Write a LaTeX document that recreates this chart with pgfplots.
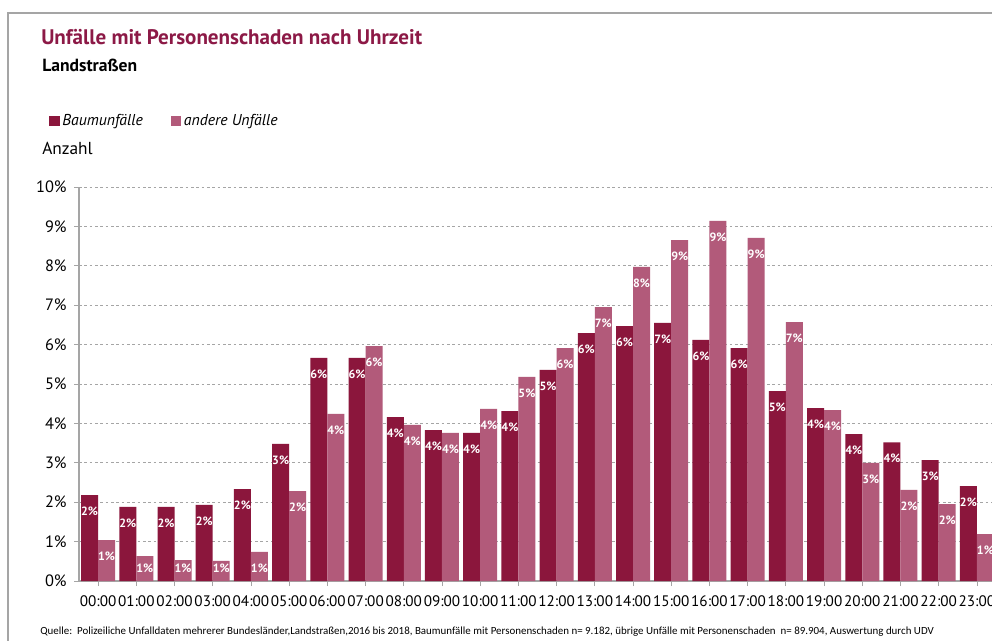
\documentclass[border=0pt]{standalone}
\usepackage{pgfplots}
\pgfplotsset{compat=1.18}
\usepackage{fontspec}
\setmainfont{PT Sans}
\newfontfamily\srcfont{Carlito}
\definecolor{baum}{RGB}{139,22,60}
\definecolor{andere}{RGB}{178,90,122}
\definecolor{titlec}{RGB}{140,25,70}
\definecolor{axgray}{RGB}{165,165,165}
\begin{document}
\begin{tikzpicture}
\useasboundingbox (0,0) rectangle (744pt,-480.75pt);
\clip (0,0) rectangle (744pt,-480.75pt);
\fill[white] (0,0) rectangle (744pt,-480.75pt);
\begin{scope}[x=0.75pt,y=-0.75pt]
\draw[axgray, line width=1.1pt] (8,641) -- (8,13) -- (992,13);
\node[anchor=base west, inner sep=0, text=titlec, font=\bfseries\fontsize{15.8}{18}\selectfont] at (41,45) {Unfälle mit Personenschaden nach Uhrzeit};
\node[anchor=base west, inner sep=0, font=\bfseries\fontsize{13.2}{15}\selectfont] at (42,72) {Landstraßen};
\node[anchor=base west, inner sep=0, font=\fontsize{13}{15}\selectfont] at (42,155) {Anzahl};
\node[anchor=base west, inner sep=0, font=\srcfont\fontsize{8.2}{10}\selectfont] at (40,634) {Quelle:\ \ Polizeiliche Unfalldaten mehrerer Bundesländer,Landstraßen,2016 bis 2018, Baumunfälle mit Personenschaden n= 9.182, übrige Unfälle mit Personenschaden\ \ n= 89.904, Auswertung durch UDV};
\end{scope}
\begin{axis}[
  at={(59.25pt,-435.75pt)}, anchor=south west,
  scale only axis, width=687.75pt, height=295.5pt,
  xmin=-0.5, xmax=23.5, ymin=0, ymax=10,
  ybar=0pt, bar width=0.445,
  axis lines*=left,
  axis line style={axgray, line width=0.8pt},
  tick align=outside, major tick length=3.75pt,
  tick style={axgray, line width=0.6pt},
  xtick={0,...,23},
  xticklabels={00:00,01:00,02:00,03:00,04:00,05:00,06:00,07:00,08:00,09:00,10:00,11:00,12:00,13:00,14:00,15:00,16:00,17:00,18:00,19:00,20:00,21:00,22:00,23:00},
  ytick={0,...,10},
  yticklabel={\pgfmathprintnumber{\tick}\%},
  /pgf/number format/assume math mode=true,
  xticklabel style={font=\fontsize{11.4}{13}\selectfont, yshift=-3.5pt},
  yticklabel style={font=\fontsize{12.3}{14}\selectfont, xshift=-2pt},
  ymajorgrids,
  grid style={axgray, line width=0.6pt, dash pattern=on 2pt off 2pt},
  legend columns=2,
  legend style={at={(-0.0327,1.1675)}, anchor=west, draw=none, fill=none, inner sep=0pt,
    font=\itshape\fontsize{11.8}{13}\selectfont,
    /tikz/every even column/.append style={column sep=19pt}},
  legend cell align=left,
  legend image code/.code={\fill[#1,draw=none] (0pt,-3.6pt) rectangle (7.8pt,3.6pt);},
  nodes near coords={\pgfmathprintnumber[fixed,precision=0]{\pgfplotspointmeta}\%},
  visualization depends on=rawy\as\rawy,
  every node near coord/.append style={anchor=center, text=white, font=\bfseries\fontsize{9}{10}\selectfont, inner sep=0pt, yshift={-1pt*min(12,29.55*\rawy-9.75)}},
]
\addplot[fill=baum, draw=none] coordinates {
(0,2.18) (1,1.88) (2,1.88) (3,1.93) (4,2.33) (5,3.48) (6,5.66) (7,5.66) (8,4.16) (9,3.83) (10,3.76) (11,4.31)
(12,5.36) (13,6.29) (14,6.47) (15,6.55) (16,6.12) (17,5.91) (18,4.82) (19,4.39) (20,3.73) (21,3.52) (22,3.07) (23,2.41)};
\addplot[fill=andere, draw=none] coordinates {
(0,1.04) (1,0.63) (2,0.53) (3,0.51) (4,0.74) (5,2.28) (6,4.24) (7,5.96) (8,3.96) (9,3.76) (10,4.37) (11,5.18)
(12,5.91) (13,6.95) (14,7.97) (15,8.65) (16,9.14) (17,8.71) (18,6.57) (19,4.34) (20,3.00) (21,2.31) (22,1.95) (23,1.19)};
\legend{Baumunfälle, andere Unfälle}
\end{axis}
\end{tikzpicture}
\end{document}
